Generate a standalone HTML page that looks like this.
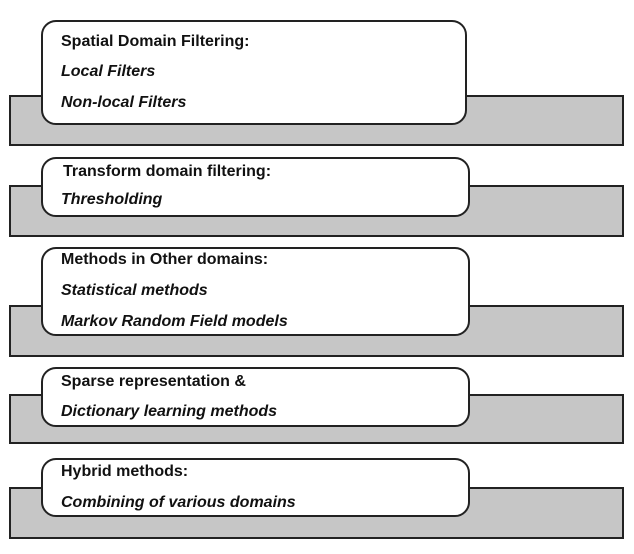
<!DOCTYPE html>
<html><head><meta charset="utf-8"><style>
body{margin:0;width:634px;height:554px;background:#fff;position:relative;font-family:"Liberation Sans",sans-serif;font-weight:bold;font-size:16px;color:#111;overflow:hidden}
.g{position:absolute;left:9px;width:615px;background:#c6c6c6;border:2px solid #222;box-sizing:border-box}
.w{position:absolute;left:41px;width:429px;background:#fff;border:2px solid #222;border-radius:15px;box-sizing:border-box}
.t{position:absolute;left:61px;white-space:nowrap;line-height:20px}
i{font-style:italic}
</style></head><body>
<div class="g" style="top:95px;height:51px"></div>
<div class="w" style="top:20px;height:105px;width:426px"></div>
<div class="t" style="top:32px">Spatial Domain Filtering:</div>
<div class="t" style="top:62px"><i>Local Filters</i></div>
<div class="t" style="top:93px"><i>Non-local Filters</i></div>

<div class="g" style="top:185px;height:52px"></div>
<div class="w" style="top:157px;height:60px"></div>
<div class="t" style="top:162px;left:63px">Transform domain filtering:</div>
<div class="t" style="top:190px"><i>Thresholding</i></div>

<div class="g" style="top:305px;height:52px"></div>
<div class="w" style="top:247px;height:89px"></div>
<div class="t" style="top:250px">Methods in Other domains:</div>
<div class="t" style="top:281px"><i>Statistical methods</i></div>
<div class="t" style="top:312px"><i>Markov Random Field models</i></div>

<div class="g" style="top:394px;height:50px"></div>
<div class="w" style="top:367px;height:60px"></div>
<div class="t" style="top:372px">Sparse representation &amp;</div>
<div class="t" style="top:402px"><i>Dictionary learning methods</i></div>

<div class="g" style="top:487px;height:52px"></div>
<div class="w" style="top:458px;height:59px"></div>
<div class="t" style="top:462px">Hybrid methods:</div>
<div class="t" style="top:493px"><i>Combining of various domains</i></div>
</body></html>
